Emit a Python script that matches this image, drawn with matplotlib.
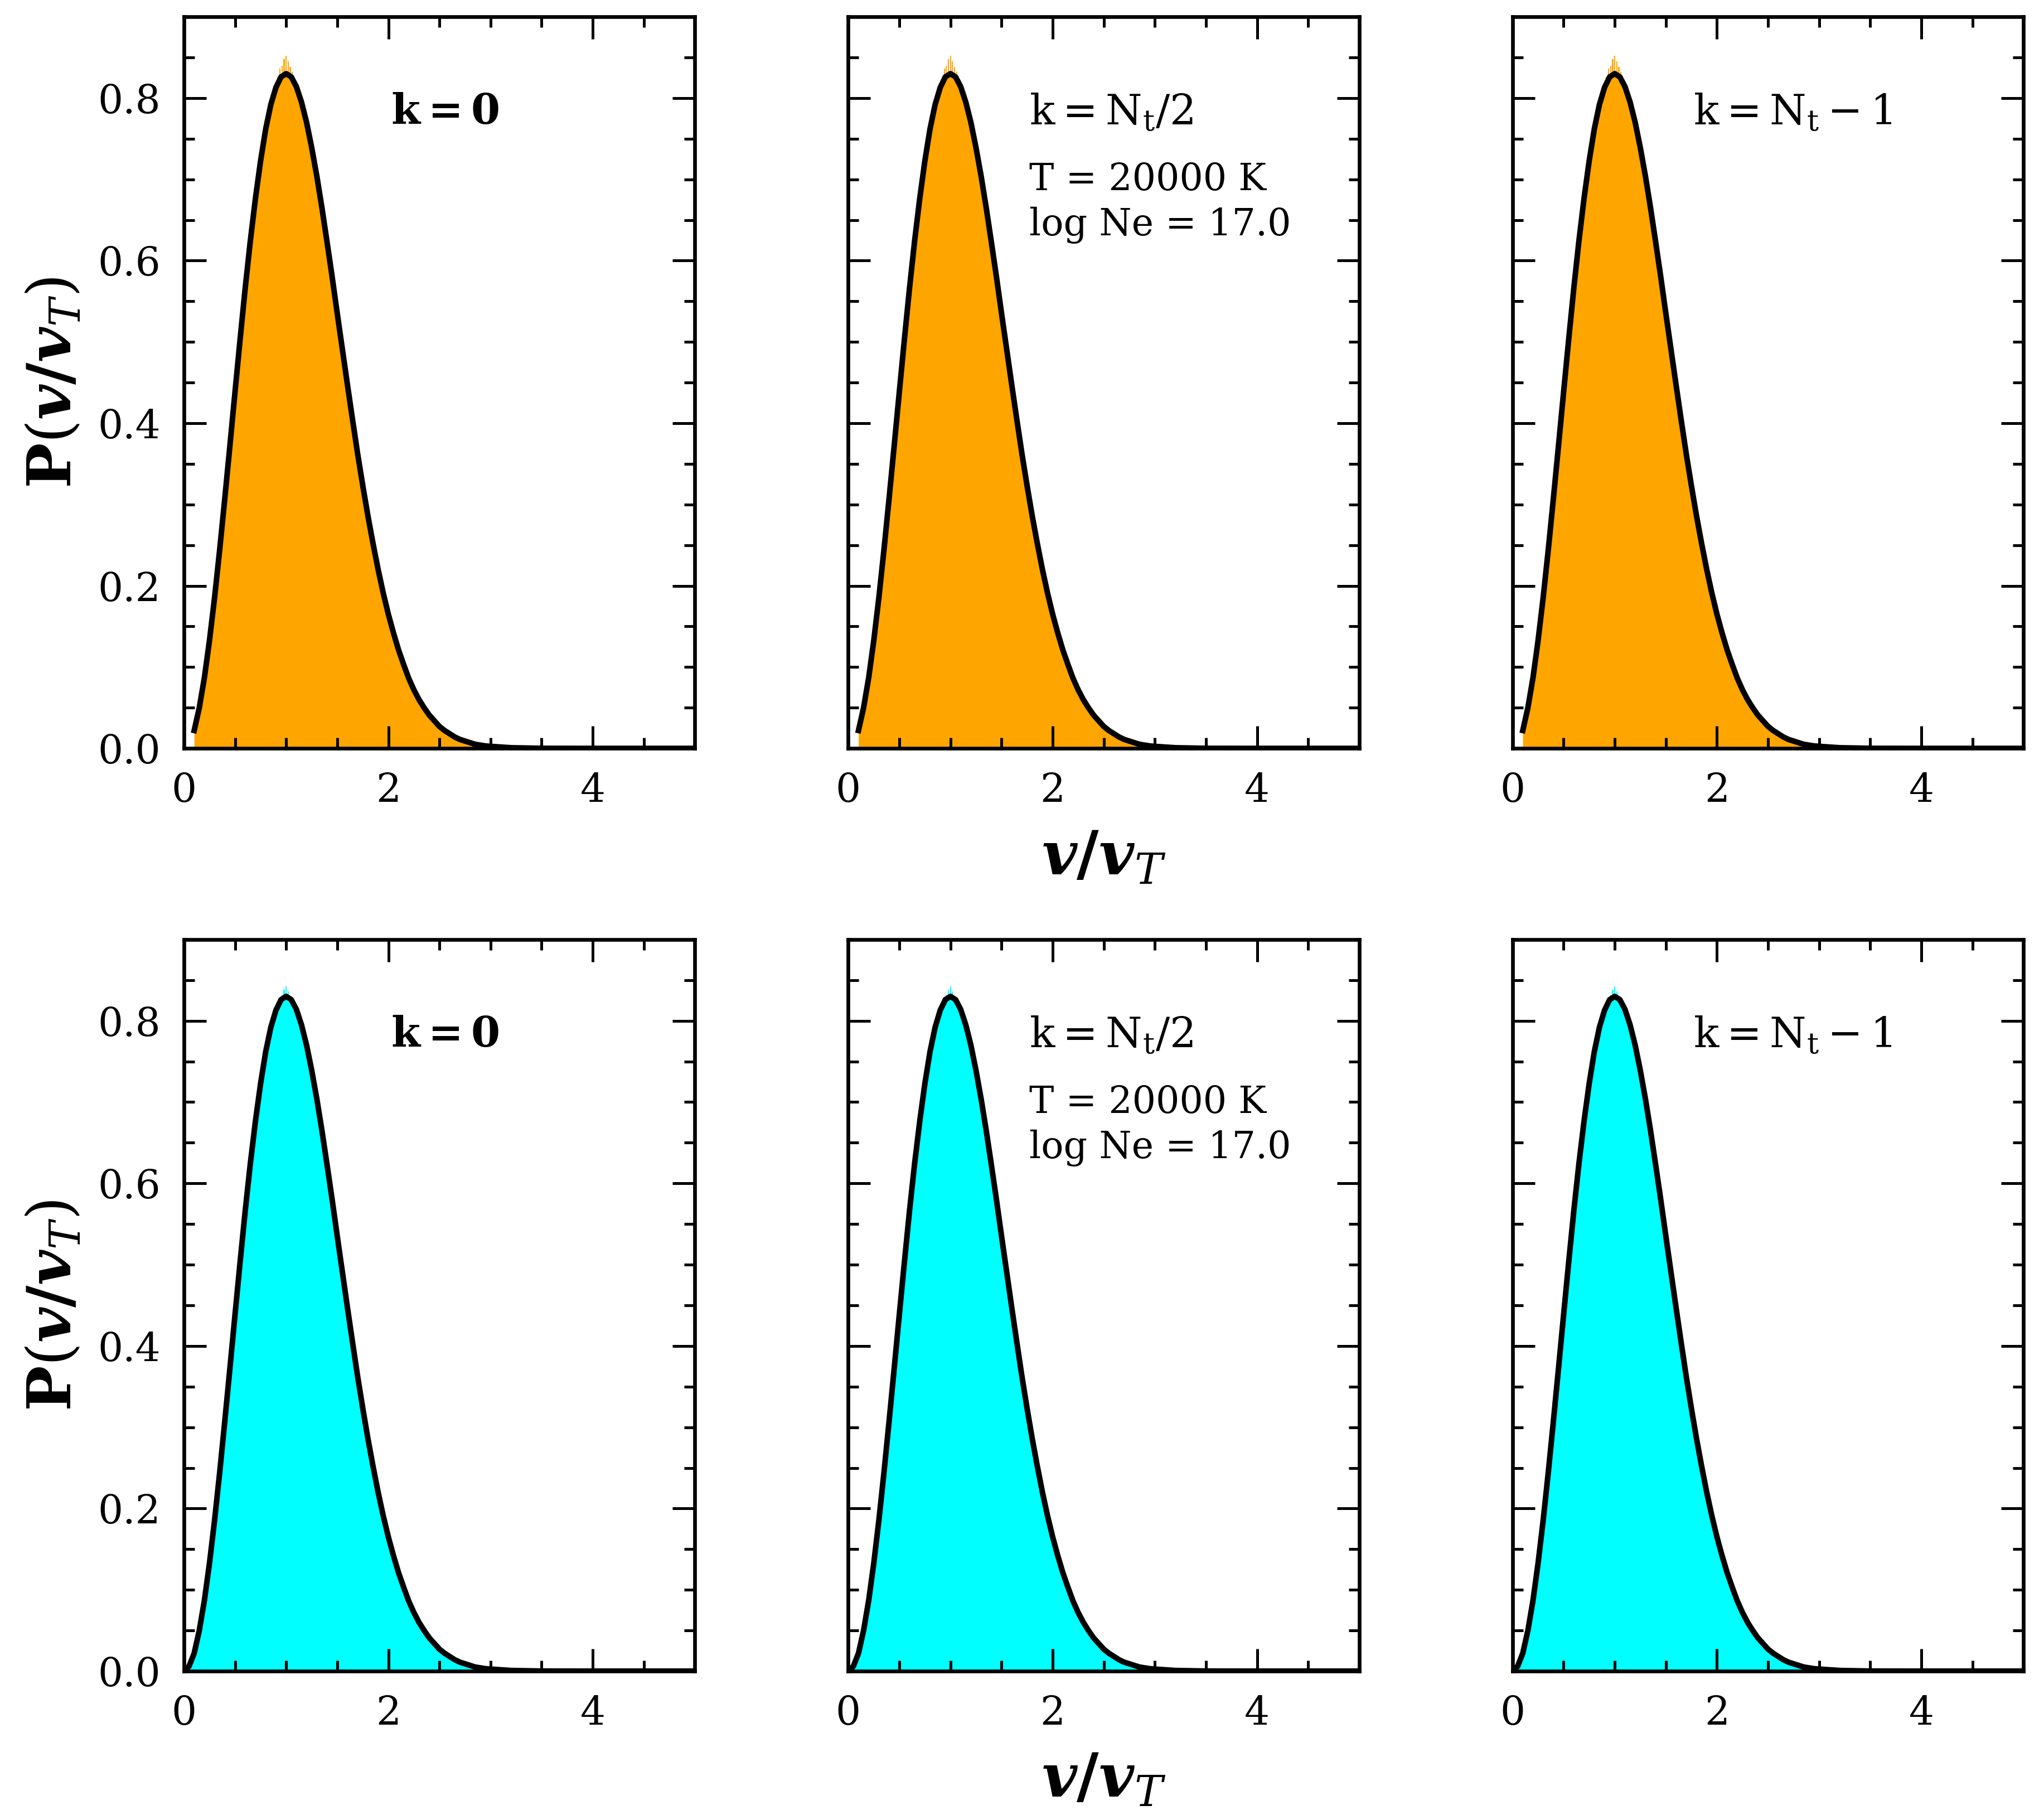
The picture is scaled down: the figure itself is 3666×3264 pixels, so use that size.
import numpy as np
import matplotlib.pyplot as plt
from matplotlib.ticker import MultipleLocator

plt.rcParams['font.family'] = 'DejaVu Serif'
plt.rcParams['mathtext.fontset'] = 'dejavuserif'

# velocity grid (v/vT) and the model curve
v = [0.0, 0.05, 0.1, 0.15, 0.2, 0.25, 0.3, 0.35, 0.4, 0.45, 0.5, 0.55,
     0.6, 0.65, 0.7, 0.75, 0.8, 0.85, 0.9, 0.95, 1.0, 1.05, 1.1, 1.15,
     1.2, 1.25, 1.3, 1.35, 1.4, 1.45, 1.5, 1.55, 1.6, 1.65, 1.7, 1.75,
     1.8, 1.85, 1.9, 1.95, 2.0, 2.05, 2.1, 2.15, 2.2, 2.25, 2.3, 2.35,
     2.4, 2.45, 2.5, 2.55, 2.6, 2.65, 2.7, 2.75, 2.8, 2.85, 2.9, 2.95,
     3.0, 3.2, 3.5, 4.0, 4.5, 5.0]
p_model = [0.0, 0.006, 0.022, 0.050, 0.087, 0.133, 0.186, 0.245, 0.308,
           0.373, 0.439, 0.504, 0.567, 0.625, 0.677, 0.723, 0.762, 0.792,
           0.813, 0.826, 0.830, 0.826, 0.814, 0.795, 0.770, 0.739, 0.704,
           0.665, 0.623, 0.580, 0.535, 0.491, 0.447, 0.404, 0.362, 0.323,
           0.286, 0.252, 0.220, 0.191, 0.165, 0.142, 0.121, 0.103, 0.086,
           0.072, 0.060, 0.050, 0.041, 0.034, 0.027, 0.022, 0.018, 0.014,
           0.011, 0.009, 0.007, 0.005, 0.004, 0.003, 0.0025, 0.0008,
           0.0001, 0.0, 0.0, 0.0]

# noisy histogram tops around the peak
peak_v = [0.92, 0.94, 0.96, 0.98, 1.00, 1.02, 1.04, 1.06, 1.08]
peak_top = [0.826, 0.836, 0.840, 0.848, 0.852, 0.845, 0.838, 0.832, 0.820]
peak_bottom = [0.818, 0.826, 0.832, 0.838, 0.842, 0.836, 0.830, 0.822, 0.812]

row_colors = ['orange', 'cyan']
row_start = [2, 0]          # top row starts at v=0.1, bottom row at v=0
row_peaks = [peak_top, peak_bottom]
panel_labels = [r'$\mathbf{k = 0}$', r'$\mathrm{k = N_t/2}$', r'$\mathrm{k = N_t - 1}$']
info_text = 'T = 20000 K\nlog Ne = 17.0'

fig = plt.figure(figsize=(12.22, 10.88), dpi=300)
lefts = [0.090, 0.415, 0.740]
bottoms = [0.5888, 0.0818]
w, h = 0.250, 0.402

for r in range(2):
    s = row_start[r]
    for c in range(3):
        ax = fig.add_axes([lefts[c], bottoms[r], w, h])
        ax.fill_between(v[s:], p_model[s:], color=row_colors[r], lw=0)
        ax.bar(peak_v, row_peaks[r], width=0.012, color=row_colors[r], lw=0)
        ax.plot(v[s:], p_model[s:], color='black', lw=2.4)

        ax.set_xlim(0, 5)
        ax.set_ylim(0, 0.9)
        ax.xaxis.set_major_locator(MultipleLocator(2))
        ax.xaxis.set_minor_locator(MultipleLocator(0.5))
        ax.yaxis.set_major_locator(MultipleLocator(0.2))
        ax.yaxis.set_minor_locator(MultipleLocator(0.05))
        ax.tick_params(which='both', direction='in', top=True, right=True,
                       width=1.2, labelsize=17)
        ax.tick_params(which='major', length=9.5, pad=10)
        ax.tick_params(which='minor', length=4.5)
        for sp in ax.spines.values():
            sp.set_linewidth(1.6)

        if c == 0:
            ax.set_ylabel(r'$\mathbf{P}(\boldsymbol{v/v}_T)$', fontsize=26, labelpad=6)
        else:
            ax.set_yticklabels([])
        if c == 1:
            ax.set_xlabel(r'$\boldsymbol{v/v}_T$', fontsize=26, labelpad=8)
            ax.text(0.354, 0.802, info_text, transform=ax.transAxes,
                    fontsize=16, va='top', linespacing=1.3)

        ax.text(0.405 if c == 0 else 0.354, 0.897, panel_labels[c],
                transform=ax.transAxes, fontsize=18, va='top')

fig.savefig('out.png', dpi=300)
